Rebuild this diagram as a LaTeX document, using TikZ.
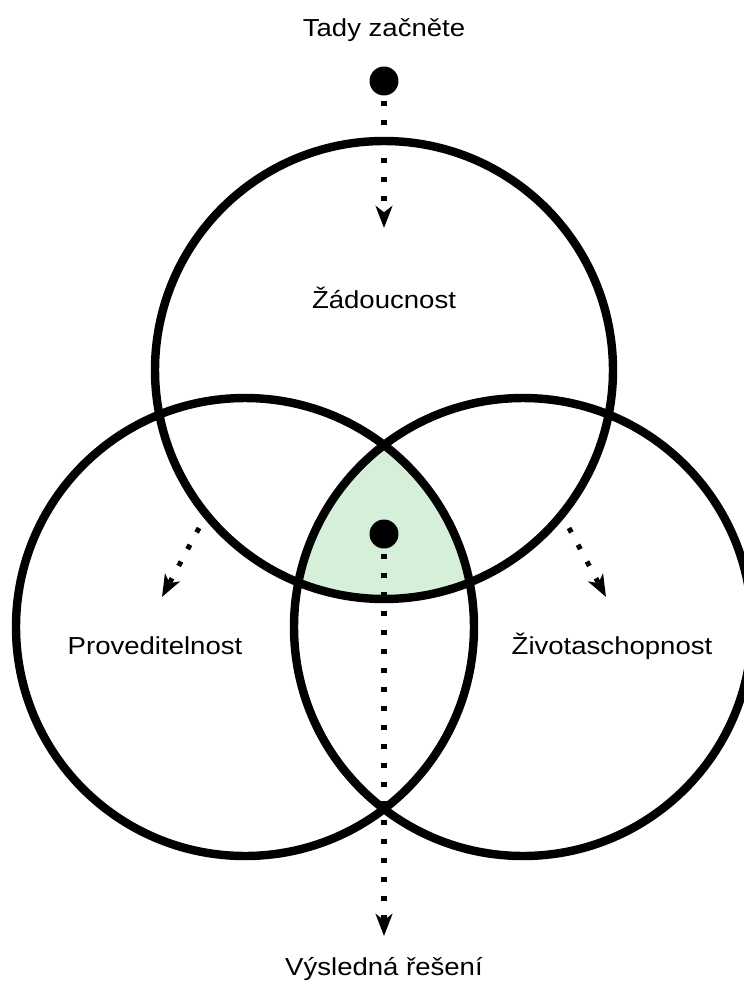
\documentclass[tikz,border=0pt]{standalone}
\usepackage{fontspec}
\setmainfont[FakeStretch=1.12]{Liberation Sans}
\usepackage{tikz}
\usetikzlibrary{arrows.meta,positioning}
\definecolor{LightGreen}{RGB}{213,239,217}

\begin{document}
\begin{tikzpicture}[x=0.02cm, y=-0.02cm,
		ring/.style={line width=4.8pt},
		flow/.style={line width=2.85pt, dash pattern=on 2.85pt off 7.97pt,
			-{Stealth[length=12.5pt, width=9.5pt, inset=3.5pt]}},
		dot/.style={circle, fill, inner sep=0pt, minimum size=16.5pt},
		label/.style={font=\fontsize{14pt}{16pt}\selectfont, anchor=base}]
		\useasboundingbox (0,0) rectangle (744,981);
		\coordinate (T) at (384,370);
		\coordinate (L) at (245,627);
		\coordinate (R) at (523,627);
		% green middle part
		\begin{scope}
			\clip (T) circle (229);
			\clip (L) circle (229);
			\fill[LightGreen] (R) circle (229);
		\end{scope}
		\draw[ring] (T) circle (229);
		\draw[ring] (L) circle (229);
		\draw[ring] (R) circle (229);
		\node[dot] (start) at (384,81) {};
		\node[dot] (mid) at (384,534) {};
		\coordinate (topend) at (384,228);
		\coordinate (botend) at (384,936);
		\coordinate (lstart) at (199,528);
		\coordinate (lend) at (162,597);
		\coordinate (rstart) at (569,528);
		\coordinate (rend) at (606,597);
		\draw[flow] ([yshift=-11.5pt]start.center) -- (topend);
		\draw[flow] ([yshift=-11.5pt]mid.center) -- (botend);
		\draw[flow] (lstart) -- (lend);
		\draw[flow] (rstart) -- (rend);
		\node[label] (zac) at (384,36) {Tady začněte};
		\node[label] (zad) at (384,308) {Žádoucnost};
		\node[label] (pro) at (155,654) {Proveditelnost};
		\node[label] (ziv) at (612,654) {Životaschopnost};
		\node[label] (vys) at (384,975) {Výsledná řešení};
	\end{tikzpicture}
\end{document}
